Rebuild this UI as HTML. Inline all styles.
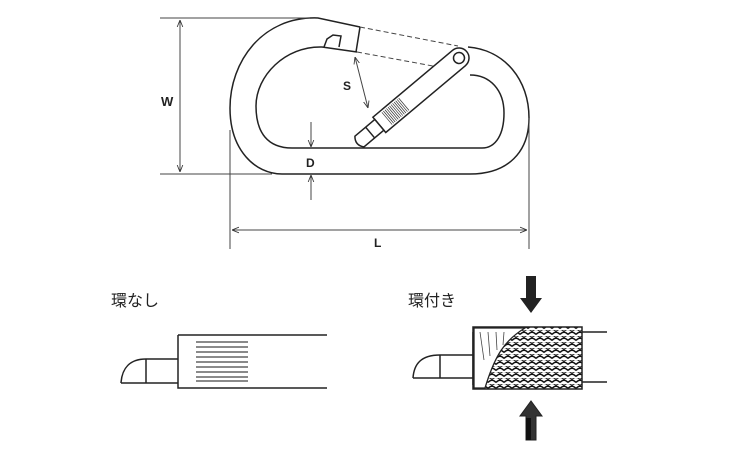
<!DOCTYPE html>
<html><head><meta charset="utf-8"><style>
html,body{margin:0;padding:0;background:#fff;width:750px;height:450px;overflow:hidden}
svg{display:block}
text{font-family:"Liberation Sans","Noto Sans CJK JP",sans-serif;fill:#222}
</style></head><body>
<svg width="750" height="450" viewBox="0 0 750 450" xmlns="http://www.w3.org/2000/svg">
<defs>
<marker id="ah" viewBox="0 0 10 10" refX="10" refY="5" markerWidth="7" markerHeight="7" orient="auto-start-reverse"><path d="M0,1 L10,5 L0,9" fill="none" stroke="#333" stroke-width="1.2"/></marker>
<pattern id="knurl" width="8" height="6" patternUnits="userSpaceOnUse"><rect width="8" height="6" fill="#fff"/><path d="M0,4.5 Q4,0 8,4.5" fill="none" stroke="#111" stroke-width="1.6"/><path d="M-4,1.5 Q0,-2.5 4,1.5 M4,1.5 Q8,-2.5 12,1.5" fill="none" stroke="#222" stroke-width="1"/></pattern>
</defs>
<g fill="none" stroke="#222" stroke-width="1.5">
<path d="M360,27 L318,18 C262,16 230,62 230,108 C230,150 255,174 282,174 L470,174 C508,174 529,152 529,118 C529,80 505,50 468,47"/>
<path d="M357,52 L322,47 C285,46 256,76 256,106 C256,133 268,148 292,148 L482,148 C496,148 504,134 504,113 C504,90 490,75 470,75"/>
<path d="M360,27 L356,52"/>
<path d="M324,47 L327,39 L333,35 L341,36 L339,47"/>
</g>
<g stroke="#444" stroke-width="1" stroke-dasharray="5,3">
<line x1="360" y1="27" x2="458" y2="46"/>
<line x1="357" y1="52" x2="460" y2="71"/>
</g>
<g transform="translate(459,58) rotate(140)" stroke="#222" stroke-width="1.5" fill="#fff">
<path d="M0,-10 L104,-10 L104,10 L0,10 A10,10 0 0 1 0,-10 Z"/>
<circle cx="0" cy="0" r="5.5" fill="none"/>
<g stroke="#333" stroke-width="0.7">
<line x1="72" y1="-8" x2="72" y2="8"/><line x1="74" y1="-8" x2="74" y2="8"/><line x1="76" y1="-8" x2="76" y2="8"/><line x1="78" y1="-8" x2="78" y2="8"/><line x1="80" y1="-8" x2="80" y2="8"/><line x1="82" y1="-8" x2="82" y2="8"/><line x1="84" y1="-8" x2="84" y2="8"/><line x1="86" y1="-8" x2="86" y2="8"/><line x1="88" y1="-8" x2="88" y2="8"/><line x1="90" y1="-8" x2="90" y2="8"/><line x1="92" y1="-8" x2="92" y2="8"/><line x1="94" y1="-8" x2="94" y2="8"/>
</g>
<path d="M104,-7 L130,-7 Q136,0 130,7 L104,7 Z"/>
<line x1="116" y1="-7" x2="116" y2="7"/>
</g>
<g stroke="#444" stroke-width="1" fill="none">
<line x1="160" y1="18" x2="310" y2="18"/>
<line x1="160" y1="174" x2="272" y2="174"/>
<line x1="180" y1="20" x2="180" y2="172" marker-start="url(#ah)" marker-end="url(#ah)"/>
<line x1="230" y1="130" x2="230" y2="249"/>
<line x1="529" y1="118" x2="529" y2="249"/>
<line x1="232" y1="230" x2="527" y2="230" marker-start="url(#ah)" marker-end="url(#ah)"/>
<line x1="311" y1="122" x2="311" y2="147" marker-end="url(#ah)"/>
<line x1="311" y1="200" x2="311" y2="175" marker-end="url(#ah)"/>
<line x1="355" y1="57" x2="368" y2="108" marker-start="url(#ah)" marker-end="url(#ah)"/>
</g>
<text x="161" y="106" font-size="13" font-weight="bold">W</text>
<text x="306" y="167" font-size="12" font-weight="bold">D</text>
<text x="343" y="90" font-size="12" font-weight="bold">S</text>
<text x="374" y="247" font-size="12" font-weight="bold">L</text>
<text x="111" y="306" font-size="16">環なし</text>
<g fill="none" stroke="#222" stroke-width="1.5">
<path d="M178,335 L327,335"/>
<path d="M178,335 L178,388 L327,388"/>
<path d="M121,383 C122,368 130,359 146,359 L178,359"/>
<path d="M121,383 L178,383"/>
<line x1="146" y1="359" x2="146" y2="383"/>
</g>
<g stroke="#444" stroke-width="1.2">
<line x1="196" y1="342" x2="248" y2="342"/><line x1="196" y1="347" x2="248" y2="347"/><line x1="196" y1="352" x2="248" y2="352"/><line x1="196" y1="357" x2="248" y2="357"/><line x1="196" y1="362" x2="248" y2="362"/><line x1="196" y1="367" x2="248" y2="367"/><line x1="196" y1="372" x2="248" y2="372"/><line x1="196" y1="377" x2="248" y2="377"/><line x1="196" y1="381" x2="248" y2="381"/>
</g>
<text x="408" y="306" font-size="16">環付き</text>
<g fill="none" stroke="#222" stroke-width="1.5">
<path d="M582,332 L607,332 M582,382 L607,382"/>
<path d="M413,378 C414,364 421,355 440,355 L473,355"/>
<path d="M413,378 L473,378"/>
<line x1="440" y1="355" x2="440" y2="378"/>
<path d="M473,332 L473,385"/>
</g>
<rect x="473" y="327" width="109" height="62" fill="url(#knurl)" stroke="#222" stroke-width="1.5"/>
<path d="M474,328 L525,328 C505,340 495,355 485,388 L474,388 Z" fill="#fff" stroke="#222" stroke-width="1.3"/>
<g stroke="#444" stroke-width="0.8"><line x1="480" y1="332" x2="484" y2="360"/><line x1="488" y1="332" x2="490" y2="356"/><line x1="496" y1="332" x2="497" y2="350"/><line x1="504" y1="332" x2="503" y2="345"/></g>
<path d="M526,276 L536,276 L536,298 L542,298 L531,313 L520,298 L526,298 Z" fill="#222"/>
<path d="M526,440 L536,440 L536,416 L542,416 L531,401 L520,416 L526,416 Z" fill="#333" stroke="#222"/>
<rect x="526" y="418" width="5" height="22" fill="#111"/>
</svg>
</body></html>
